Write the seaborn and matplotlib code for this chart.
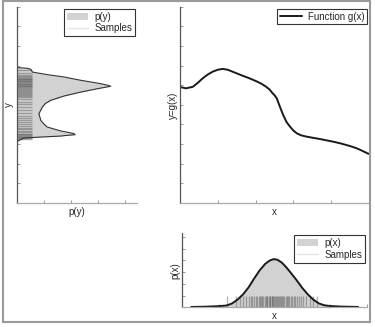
import numpy as np
import pandas as pd
import seaborn as sns
import matplotlib
matplotlib.use("Agg")
import matplotlib.pyplot as plt
from matplotlib.patches import Patch, Rectangle
from matplotlib.lines import Line2D

# ---- data ----
# function g(x)
g_x = [0.0, 0.16, 0.34, 0.47, 0.60, 0.73, 0.865, 1.0, 1.13, 1.26, 1.39, 1.52, 1.66,
       1.84, 2.01, 2.15, 2.28, 2.37, 2.45, 2.51, 2.56, 2.64, 2.73, 2.82, 2.91, 3.0,
       3.09, 3.2, 3.35, 3.52, 3.70, 3.88, 4.06, 4.24, 4.41, 4.55, 4.67, 4.82, 4.96, 5.0]
g_y = [5.91, 5.84, 5.92, 6.12, 6.35, 6.54, 6.69, 6.79, 6.83, 6.79, 6.69, 6.59, 6.48,
       6.35, 6.21, 6.08, 5.92, 5.78, 5.59, 5.47, 5.33, 4.92, 4.48, 4.12, 3.89, 3.69,
       3.55, 3.45, 3.38, 3.32, 3.26, 3.19, 3.12, 3.04, 2.95, 2.87, 2.79, 2.66, 2.53, 2.50]

# density p(x)
px_x = [0.25, 0.6, 1.0, 1.2, 1.35, 1.5, 1.65, 1.8, 1.95, 2.1, 2.25, 2.38, 2.48,
        2.58, 2.7, 2.82, 2.95, 3.1, 3.25, 3.4, 3.55, 3.7, 3.85, 4.0, 4.3, 4.76]
px_d = [0.03, 0.05, 0.10, 0.15, 0.32, 0.65, 1.10, 1.70, 2.45, 3.15, 3.70, 4.00, 4.10,
        4.05, 3.80, 3.40, 2.90, 2.30, 1.65, 1.10, 0.65, 0.33, 0.17, 0.11, 0.06, 0.03]

# density p(y)
py_y = [6.90, 6.86, 6.80, 6.67, 6.54, 6.42, 6.25, 6.11, 6.01, 5.95, 5.88, 5.82, 5.65,
        5.45, 5.23, 5.07, 4.89, 4.55, 4.21, 4.02, 3.87, 3.67, 3.54, 3.48, 3.44, 3.41,
        3.36, 3.31, 3.19, 3.11]
py_d = [0.0, 0.40, 0.52, 0.57, 1.12, 1.74, 2.36, 2.97, 3.33, 3.47, 3.20, 2.97, 2.36,
        1.74, 1.25, 1.05, 0.94, 0.81, 0.88, 1.00, 1.12, 1.62, 2.10, 2.15, 1.80, 1.62,
        0.88, 0.26, 0.07, 0.0]

# samples of x and the corresponding y = g(x)
samples_x = [1.22, 1.45, 1.58, 1.66, 1.74, 1.8, 1.86, 1.9, 1.95, 1.99, 2.03, 2.07, 2.1,
             2.14, 2.17, 2.2, 2.23, 2.26, 2.29, 2.31, 2.34, 2.37, 2.39, 2.42, 2.44, 2.47,
             2.49, 2.52, 2.54, 2.57, 2.6, 2.62, 2.65, 2.68, 2.71, 2.74, 2.77, 2.8, 2.83,
             2.87, 2.9, 2.94, 2.98, 3.02, 3.06, 3.11, 3.16, 3.22, 3.28, 3.36, 3.45, 3.55, 3.65]
samples_y = [6.78, 6.64, 6.54, 6.48, 6.42, 6.37, 6.33, 6.30, 6.26, 6.23, 6.19, 6.15, 6.11,
             6.07, 6.04, 6.01, 5.97, 5.94, 5.90, 5.86, 5.80, 5.75, 5.71, 5.65, 5.61, 5.54,
             5.50, 5.43, 5.38, 5.28, 5.13, 5.03, 4.88, 4.73, 4.58, 4.45, 4.35, 4.25, 4.15,
             4.02, 3.92, 3.83, 3.76, 3.68, 3.61, 3.54, 3.50, 3.47, 3.43, 3.38, 3.35, 3.31, 3.28]

labels_left = ["p(y)", "Samples"]
labels_top = ["Function g(x)"]
labels_bottom = ["p(x)", "Samples"]

# ---- style ----
sns.set_style("white")
plt.rcParams["font.family"] = ["Liberation Sans", "DejaVu Sans"]
plt.rcParams["font.size"] = 7

FILL = "#d2d2d2"
EDGE = "#333333"
SAMP = "#505050"

W, H = 375, 327
fig = plt.figure(figsize=(W / 100, H / 100), dpi=100)

def pos(x0, y0, x1, y1):
    return [x0 / W, 1 - y1 / H, (x1 - x0) / W, (y1 - y0) / H]

ax_l = fig.add_axes(pos(17, 6.7, 137, 203))
ax_g = fig.add_axes(pos(180, 6.7, 369, 203))
ax_b = fig.add_axes(pos(182, 233.3, 367, 307.3))

def style(ax):
    for s in ["top", "right"]:
        ax.spines[s].set_visible(False)
    ax.spines["left"].set_color("#555555")
    ax.spines["bottom"].set_color("#aaaaaa")
    ax.spines["left"].set_linewidth(0.9)
    ax.spines["bottom"].set_linewidth(0.9)
    ax.tick_params(direction="in", length=2.5, width=0.6, color="#888888",
                   labelleft=False, labelbottom=False, left=True, bottom=True)

# left: p(y)
df_py = pd.DataFrame({"y": py_y, "p": py_d})
ax_l.fill_betweenx(df_py["y"], 0, df_py["p"], color=FILL, lw=0)
sns.rugplot(y=samples_y, height=0.122, ax=ax_l, color=SAMP, alpha=0.42, lw=0.7)
sns.lineplot(data=df_py, x="p", y="y", sort=False, estimator=None, ax=ax_l,
             color=EDGE, lw=0.8)
ax_l.set_xlim(0, 4.44)
ax_l.set_ylim(0, 10)
ax_l.set_xticks(range(0, 5))
ax_l.set_yticks(range(0, 11))
style(ax_l)
ax_l.set_xlabel("p(y)", labelpad=3)
ax_l.set_ylabel("y", labelpad=2.5)
h_l = [Patch(facecolor=FILL, edgecolor="none"), Line2D([], [], color="#e4e4e4", lw=1)]
ax_l.legend(h_l, labels_left, loc="upper right", fancybox=False, edgecolor="#333333",
            framealpha=1, borderaxespad=0.2, handlelength=2.2, labelspacing=0.15,
            borderpad=0.3, handletextpad=0.6, fontsize=7).get_frame().set_linewidth(0.8)

# top right: g(x)
df_g = pd.DataFrame({"x": g_x, "g": g_y})
sns.lineplot(data=df_g, x="x", y="g", ax=ax_g, color="#1a1a1a", lw=1.4,
             label=labels_top[0])
ax_g.set_xlim(0, 5)
ax_g.set_ylim(0, 10)
ax_g.set_xticks(range(0, 6))
ax_g.set_yticks(range(0, 11))
style(ax_g)
ax_g.set_xlabel("x", labelpad=3)
ax_g.set_ylabel("y=g(x)", labelpad=1.5)
ax_g.legend(loc="upper right", fancybox=False, edgecolor="#333333", framealpha=1,
            borderaxespad=0.2, handlelength=2.2, borderpad=0.3, handletextpad=0.6,
            fontsize=7).get_frame().set_linewidth(0.8)

# bottom right: p(x)
df_px = pd.DataFrame({"x": px_x, "p": px_d})
ax_b.fill_between(df_px["x"], 0, df_px["p"], color=FILL, lw=0)
sns.rugplot(x=samples_x, height=0.159, ax=ax_b, color=SAMP, alpha=0.42, lw=0.7)
sns.lineplot(data=df_px, x="x", y="p", ax=ax_b, color="#1a1a1a", lw=1.4)
ax_b.set_xlim(0, 5)
ax_b.set_ylim(0, 6.3)
ax_b.set_xticks(range(0, 6))
ax_b.set_yticks(range(0, 7))
style(ax_b)
ax_b.set_xlabel("x", labelpad=3)
ax_b.set_ylabel("p(x)", labelpad=1.5)
h_b = [Patch(facecolor=FILL, edgecolor="none"), Line2D([], [], color="#e4e4e4", lw=1)]
ax_b.legend(h_b, labels_bottom, loc="upper right", fancybox=False, edgecolor="#333333",
            framealpha=1, borderaxespad=0.2, handlelength=2.2, labelspacing=0.15,
            borderpad=0.3, handletextpad=0.6, fontsize=7).get_frame().set_linewidth(0.8)

# figure frame
fig.patches.append(Rectangle((3 / W, 1 - 322 / H), 367 / W, 321 / H, fill=False,
                             edgecolor="#9a9a9a", lw=1.5, transform=fig.transFigure))

fig.savefig("out.png", dpi=100)
